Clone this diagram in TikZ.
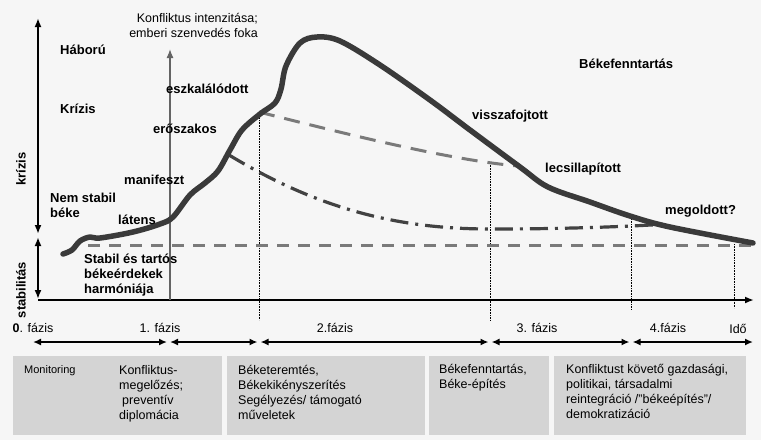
\documentclass[tikz,border=0pt]{standalone}
\usepackage{fontspec}
\setmainfont{Liberation Sans}
\usetikzlibrary{arrows.meta}

\definecolor{bgc}{RGB}{246,246,246}
\definecolor{boxc}{RGB}{212,212,212}
\definecolor{curvec}{RGB}{58,58,58}
\definecolor{dashc}{RGB}{122,122,122}
\definecolor{ddc}{RGB}{66,66,66}
\definecolor{greyax}{RGB}{100,100,100}

\tikzset{
  lbl/.style={anchor=base west, inner sep=0pt, align=left, font=\fontsize{13}{15}\selectfont\bfseries},
  txt/.style={anchor=base, inner sep=0pt, font=\fontsize{12.5}{15}\selectfont},
  boxtxt/.style={anchor=base west, inner sep=0pt, align=left, font=\fontsize{12.5}{15}\selectfont},
  panel/.style={fill=boxc},
  axis/.style={line width=2pt},
  span/.style={line width=1.6pt, {Latex[length=8pt,width=7pt]}-{Latex[length=8pt,width=7pt]}},
  guide/.style={densely dotted, line width=0.6pt},
}

\begin{document}
\begin{tikzpicture}[x=1pt, y=-1pt]
\fill[bgc] (0,0) rectangle (761,440);
\useasboundingbox (0,0) rectangle (761,440);

% axes
\coordinate (o) at (38,300);
\coordinate (xend) at (754,300);
\coordinate (ktop) at (38,18);
\coordinate (kbot) at (38,234);
\coordinate (stop) at (38,237);
\coordinate (sbot) at (38,299);
\draw[axis, -{Latex[length=9pt,width=7pt]}] (o) -- (xend);
\draw[axis, {Latex[length=9pt,width=7pt]}-{Latex[length=9pt,width=7pt]}] (kbot) -- (ktop);
\draw[axis, {Latex[length=9pt,width=7pt]}-{Latex[length=9pt,width=7pt]}] (stop) -- (sbot);
\node[lbl, anchor=center, rotate=90] (kriz) at (21,169) {krízis};
\node[lbl, anchor=center, rotate=90] (stab) at (21,290) {stabilitás};

% intensity axis
\coordinate (g0) at (170,300);
\coordinate (g1) at (170,49);
\draw[greyax, line width=1.3pt, -{Latex[length=9pt,width=7pt]}] (g0) -- (g1);
\node[txt, anchor=base east, align=right] (intens) at (258,37) {Konfliktus intenzitása;\\emberi szenvedés foka};

% guides
\coordinate (d1t) at (259,112);
\coordinate (d1b) at (259,320);
\coordinate (d2t) at (490,163);
\coordinate (d2b) at (490,320);
\coordinate (d3t) at (631,216);
\coordinate (d3b) at (631,310);
\coordinate (d4t) at (734,244);
\coordinate (d4b) at (734,308);
\draw[guide] (d1t) -- (d1b);
\draw[guide] (d2t) -- (d2b);
\draw[guide] (d3t) -- (d3b);
\draw[guide] (d4t) -- (d4b);

% base line
\coordinate (b0) at (88,245);
\coordinate (b1) at (753,245);
\draw[dashc, line width=3pt, dash pattern=on 12pt off 9pt] (b0) -- (b1);

% suppressed branch
\coordinate (u0) at (259,112);
\coordinate (u1) at (518,166);
\draw[dashc, line width=3pt, dash pattern=on 16pt off 10pt] (u0) .. controls (350,135) and (450,160) .. (u1);

% managed branch
\coordinate (m0) at (229,155);
\coordinate (m1) at (490,229);
\coordinate (m2) at (668,224);
\draw[ddc, line width=3.2pt, dash pattern=on 18pt off 7pt on 3pt off 7pt]
  (m0) .. controls (320,210) and (400,229) .. (m1) .. controls (560,229) and (620,227) .. (m2);

% conflict curve
\draw[curvec, line width=5.5pt, line cap=round, line join=round] plot[smooth, tension=0.55] coordinates {
  (63,254) (72,250) (80,241) (90,237) (100,238) (133,232) (160,224) (173,217)
  (190,195) (205,183) (218,171) (230,150) (242,130) (260,114) (275,103) (281,89)
  (286,66) (300,43) (317,37) (340,41) (380,65) (430,100) (470,130) (520,167)
  (548,187) (590,202) (630,216) (670,227) (753,243)};

% stage labels
\node[lbl] (war) at (60,54) {Háború};
\node[lbl] (crisis) at (60,113) {Krízis};
\node[lbl] (escal) at (166,93) {eszkalálódott};
\node[lbl] (viol) at (153,133) {erőszakos};
\node[lbl] (manif) at (124,184) {manifeszt};
\node[lbl] (unst) at (50,217) {Nem stabil\\béke};
\node[lbl] (lat) at (118,224) {látens};
\node[lbl] (stbl) at (84,293) {Stabil és tartós\\békeérdekek\\harmóniája};
\node[lbl] (keep) at (579,68) {Békefenntartás};
\node[lbl] (supp) at (472,119) {visszafojtott};
\node[lbl] (calm) at (545,172) {lecsillapított};
\node[lbl] (solv) at (665,214) {megoldott?};

% phases
\node[txt] (f0) at (33,332) {\textbf{0}. fázis};
\node[txt] (f1) at (160,332) {1. fázis};
\node[txt] (f2) at (335,332) {2.fázis};
\node[txt] (f3) at (537,332) {3. fázis};
\node[txt] (f4) at (668,332) {4.fázis};
\node[txt] (ido) at (738,333) {Idő};

\coordinate (p0) at (33,342);
\coordinate (p1) at (168.5,342);
\coordinate (p2) at (259,342);
\coordinate (p3) at (490,342);
\coordinate (p4) at (631,342);
\coordinate (p5) at (753,342);
\draw[span, shorten >=1.5pt] (p0) -- (p1);
\draw[span, shorten <=1.5pt, shorten >=1.5pt] (p1) -- (p2);
\draw[span, shorten <=1.5pt, shorten >=1.5pt] (p2) -- (p3);
\draw[span, shorten <=1.5pt, shorten >=1.5pt] (p3) -- (p4);
\draw[span, shorten <=1.5pt] (p4) -- (p5);

% action panels
\fill[panel] (13,356) rectangle (222,435);
\fill[panel] (227,356) rectangle (425,435);
\fill[panel] (429,356) rectangle (549,435);
\fill[panel] (554,356) rectangle (746,435);
\node[boxtxt, font=\fontsize{11}{13}\selectfont] (mon) at (24,373) {Monitoring};
\node[boxtxt] (prev) at (119,419) {Konfliktus-\\megelőzés;\\\hspace*{3pt}preventív\\diplomácia};
\node[boxtxt] (make) at (238,419) {Béketeremtés,\\Békekikényszerítés\\Segélyezés/ támogató\\műveletek};
\node[boxtxt] (build) at (439,388) {Békefenntartás,\\Béke-építés};
\node[boxtxt] (post) at (566,418) {Konfliktust követő gazdasági,\\politikai, társadalmi\\reintegráció /”békeépítés”/\\demokratizáció};
\end{tikzpicture}
\end{document}
